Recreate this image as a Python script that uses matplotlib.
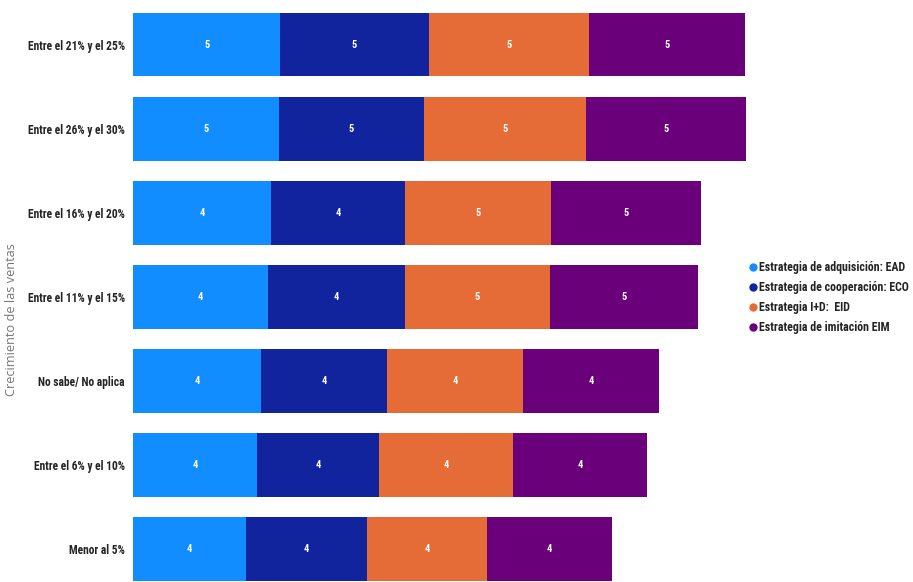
import matplotlib
matplotlib.use("Agg")
import matplotlib.pyplot as plt
from matplotlib.lines import Line2D
import numpy as np

# data (top to bottom)
categories = [
    "Entre el 21% y el 25%",
    "Entre el 26% y el 30%",
    "Entre el 16% y el 20%",
    "Entre el 11% y el 15%",
    "No sabe/ No aplica",
    "Entre el 6% y el 10%",
    "Menor al 5%",
]
ead = [4.71, 4.65, 4.40, 4.30, 4.08, 3.96, 3.60]
eco = [4.74, 4.66, 4.30, 4.40, 4.04, 3.91, 3.88]
eid = [5.11, 5.16, 4.66, 4.61, 4.34, 4.28, 3.83]
eim = [4.98, 5.12, 4.78, 4.74, 4.36, 4.26, 4.00]

series_names = [
    "Estrategia de adquisición: EAD",
    "Estrategia de cooperación: ECO",
    "Estrategia I+D:  EID",
    "Estrategia de imitación EIM",
]
colors = ["#118DFF", "#12239E", "#E66C37", "#6B007B"]

# first installed family in the list is used
narrow = ["Roboto Condensed", "Liberation Sans Narrow", "Liberation Sans", "DejaVu Sans"]

W, H = 913, 582
fig = plt.figure(figsize=(W / 100, H / 100), dpi=100)
# axes placed in pixels: bars start at x=133, rows are 84 px apart
ax = fig.add_axes([133 / W, (H - 591) / H, 626 / W, 588.5 / H])

y = np.arange(len(categories))
left = np.zeros(len(categories))
for vals, name, c in zip([ead, eco, eid, eim], series_names, colors):
    vals = np.array(vals)
    bars = ax.barh(y, vals, left=left, height=0.76, color=c, label=name)
    ax.bar_label(bars, labels=[f"{v:.0f}" for v in vals], label_type="center",
                 color="white", fontsize=7.5, fontweight="bold", family=narrow)
    left += vals

ax.set_ylim(6.5, -0.5)
ax.set_xlim(0, 20)
ax.set_yticks(y)
ax.set_yticklabels(categories, fontsize=8.3, fontweight="bold",
                   color="#252423", family=narrow)
ax.tick_params(axis="y", length=0, pad=6)
ax.set_xticks([])
for s in ax.spines.values():
    s.set_visible(False)

fig.text(12 / W, 1 - 320 / H, "Crecimiento de las ventas", rotation=90,
         ha="center", va="center", fontsize=9.2, color="#777777",
         family=["Open Sans", "DejaVu Sans"])

handles = [Line2D([], [], marker="o", ls="", color=c, markersize=5)
           for c in colors]
ax.legend(handles, series_names, loc="upper left",
          bbox_to_anchor=(750 / W, 1 - 261 / H), bbox_transform=fig.transFigure,
          frameon=False, borderpad=0, borderaxespad=0, handlelength=0.5,
          handletextpad=0.25, labelspacing=0.6,
          prop={"family": narrow, "weight": "bold", "size": 8.6})
for t in ax.get_legend().get_texts():
    t.set_color("#252423")

fig.savefig("out.png", dpi=100)
